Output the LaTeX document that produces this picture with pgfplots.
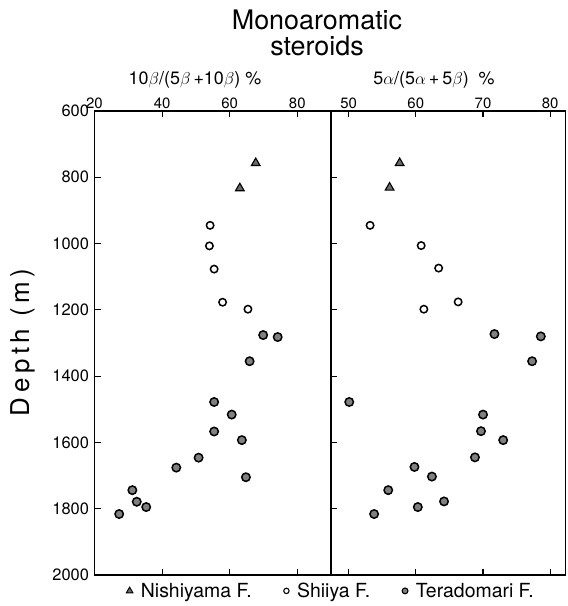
\documentclass[border=0pt]{standalone}
\usepackage{pgfplots}
\pgfplotsset{compat=1.18}
\usepackage{fontspec}
\setmainfont{TeX Gyre Heros}
\newfontfamily\spaced[LetterSpace=18]{TeX Gyre Heros}
\definecolor{mkgray}{gray}{0.5}
\definecolor{trigray}{gray}{0.42}
\pgfplotsset{
  panel/.style={
    scale only axis,
    anchor=south west,
    height=464bp,
    ymin=600, ymax=2000,
    y dir=reverse,
    ytick={600,800,...,2000},
    xtick pos=both,
    xticklabel pos=upper,
    ytick pos=left,
    tick align=inside,
    major tick length=6bp,
    axis line style={line width=1.5bp},
    every tick/.style={line width=1.1bp, black},
    /pgf/number format/assume math mode=true,
    /pgf/number format/1000 sep={},
    xticklabel style={font=\fontsize{15}{18}\selectfont, yshift=-1bp},
    yticklabel style={font=\fontsize{16.5}{19}\selectfont, xshift=-2bp},
    clip=false,
  },
  nishi/.style={only marks, mark=triangle*, mark size=5bp, mark options={fill=trigray, draw=black, line width=1.1bp}},
  shiiya/.style={only marks, mark=*, mark size=3.7bp, mark options={fill=white, draw=black, line width=1.5bp}},
  tera/.style={only marks, mark=*, mark size=4.2bp, mark options={fill=mkgray, draw=black, line width=1.5bp}},
}
\begin{document}
\begin{tikzpicture}
\path[use as bounding box] (0,0) rectangle (568bp,606bp);

% left panel
\begin{axis}[panel,
  at={(94.5bp,31bp)},
  width=236.6bp,
  xmin=20, xmax=90,
  xtick={20,40,60,80},
  legend columns=3,
  legend style={draw=none, fill=none, at={(1.0,-0.008)}, anchor=north,
    font=\fontsize{19.5}{22}\selectfont,
    /tikz/every even column/.append style={column sep=30bp},
    /tikz/every odd column/.append style={column sep=6bp}},
  legend cell align=left,
]
\addplot[nishi, forget plot] coordinates {(67.7,757) (63.0,833)};
\addplot[shiiya, forget plot] coordinates {(54.2,945) (54.0,1007) (55.4,1077) (57.9,1177) (65.4,1198)};
\addplot[tera, forget plot] coordinates {
  (69.9,1276) (74.2,1282) (65.9,1355) (55.4,1478) (60.6,1516) (55.4,1567)
  (63.6,1593) (50.8,1646) (44.2,1676) (64.8,1705) (31.2,1744) (32.5,1779)
  (35.3,1795) (27.3,1816)};
\addlegendimage{only marks, mark=triangle*, mark size=3.8bp, mark options={fill=trigray, draw=black, line width=0.9bp}}
\addlegendentry{Nishiyama F.}
\addlegendimage{only marks, mark=*, mark size=2.7bp, mark options={fill=white, draw=black, line width=1.1bp}}
\addlegendentry{Shiiya F.\hspace{20bp}}
\addlegendimage{only marks, mark=*, mark size=2.9bp, mark options={fill=mkgray, draw=black, line width=1.1bp}}
\addlegendentry{Teradomari F.}
\end{axis}

% right panel
\begin{axis}[panel,
  at={(331.1bp,31bp)},
  width=234.6bp,
  xmin=47.4, xmax=82.3,
  xtick={50,60,70,80},
  yticklabels={},
]
\addplot[nishi] coordinates {(57.6,757) (56.1,831)};
\addplot[shiiya] coordinates {(53.2,945) (60.8,1006) (63.4,1074) (66.3,1176) (61.2,1198)};
\addplot[tera] coordinates {
  (71.7,1273) (78.6,1280) (77.3,1355) (50.1,1478) (70.0,1516) (69.7,1566)
  (73.0,1593) (68.8,1645) (59.8,1674) (62.4,1703) (55.9,1744) (60.3,1795)
  (64.2,1778) (53.8,1816)};
\end{axis}

% titles
\node[anchor=base, font=\fontsize{27}{30}\selectfont, inner sep=0] at (317bp,576bp) {Monoaromatic};
\node[anchor=base, font=\fontsize{27}{30}\selectfont, inner sep=0] at (317bp,550bp) {steroids};
\node[anchor=base, font=\fontsize{18}{21}\selectfont, inner sep=0] at (195bp,521bp)
  {10$\beta$/(5$\beta$\,+10$\beta$)\ \%};
\node[anchor=base, font=\fontsize{18}{21}\selectfont, inner sep=0] at (434bp,521bp)
  {5$\alpha$/(5$\alpha$\,+\,5$\beta$)\ \ \%};
% y label
\node[rotate=90, font=\fontsize{26}{30}\selectfont, inner sep=0] at (23bp,263.5bp)
  {\spaced Depth (m)};
\end{tikzpicture}
\end{document}
